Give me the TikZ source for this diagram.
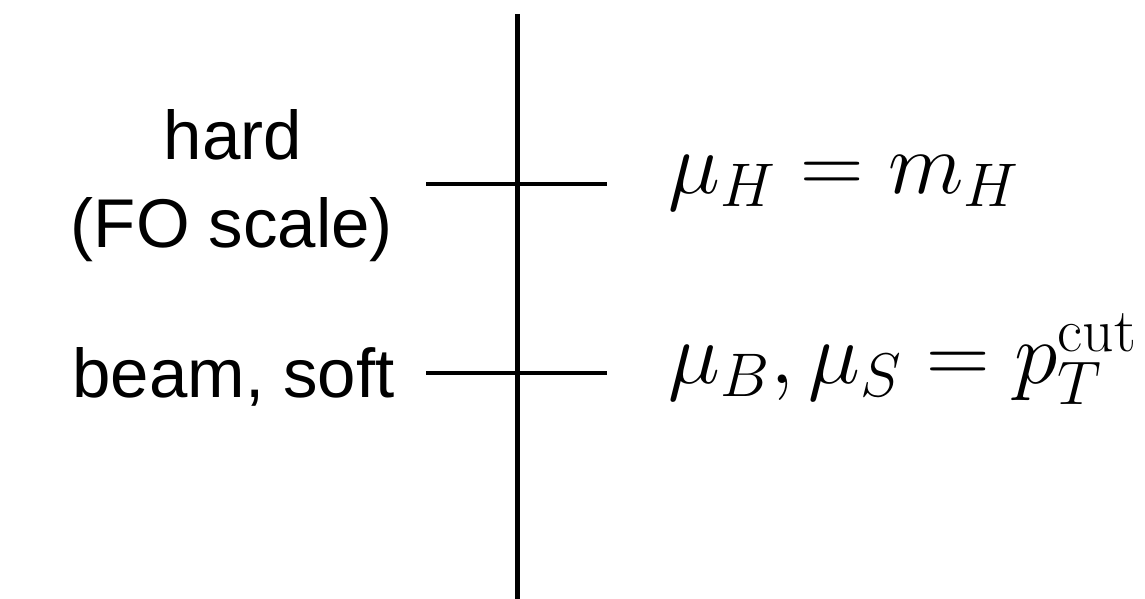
\RequirePackage{fix-cm}
\documentclass[tikz,border=0pt]{standalone}
\usepackage[no-math]{fontspec}
\newfontfamily\labelfont{Liberation Sans}
\usetikzlibrary{positioning}

\begin{document}
\begin{tikzpicture}[x=0.5pt, y=-0.5pt,
    scaleline/.style={line width=2.25pt, line cap=butt},
    scalelabel/.style={font=\fontsize{34.5}{44}\selectfont\labelfont, inner sep=0pt, align=center},
    scalevalue/.style={font=\fontsize{44}{52}\selectfont, inner sep=0pt, anchor=base west}
]
    \useasboundingbox (0,0) rectangle (1145,599);

    % Axis
    \coordinate (top) at (517.5,14);
    \coordinate (bot) at (517.5,599);
    \draw[scaleline] (top) -- (bot);

    % Ticks
    \coordinate (hl) at (426,184);
    \coordinate (hr) at (607,184);
    \coordinate (sl) at (426,373);
    \coordinate (sr) at (607,373);
    \draw[scaleline] (hl) -- (hr);
    \draw[scaleline] (sl) -- (sr);

    % Labels
    \node[scalelabel, anchor=base] (hard) at (233,159) {hard};
    \node[scalelabel, anchor=base] (fo) at (232,247) {(FO scale)};
    \node[scalelabel, anchor=base east] (beam) at (395,397) {beam, soft};

    % Scale values
    \node[scalevalue] (muh) at (668,193) {$\mu_H = m_H$};
    \node[scalevalue] (mubs) at (668,383) {$\mu_B, \mu_S = p_T^{\mathrm{cut}}$};
\end{tikzpicture}
\end{document}
